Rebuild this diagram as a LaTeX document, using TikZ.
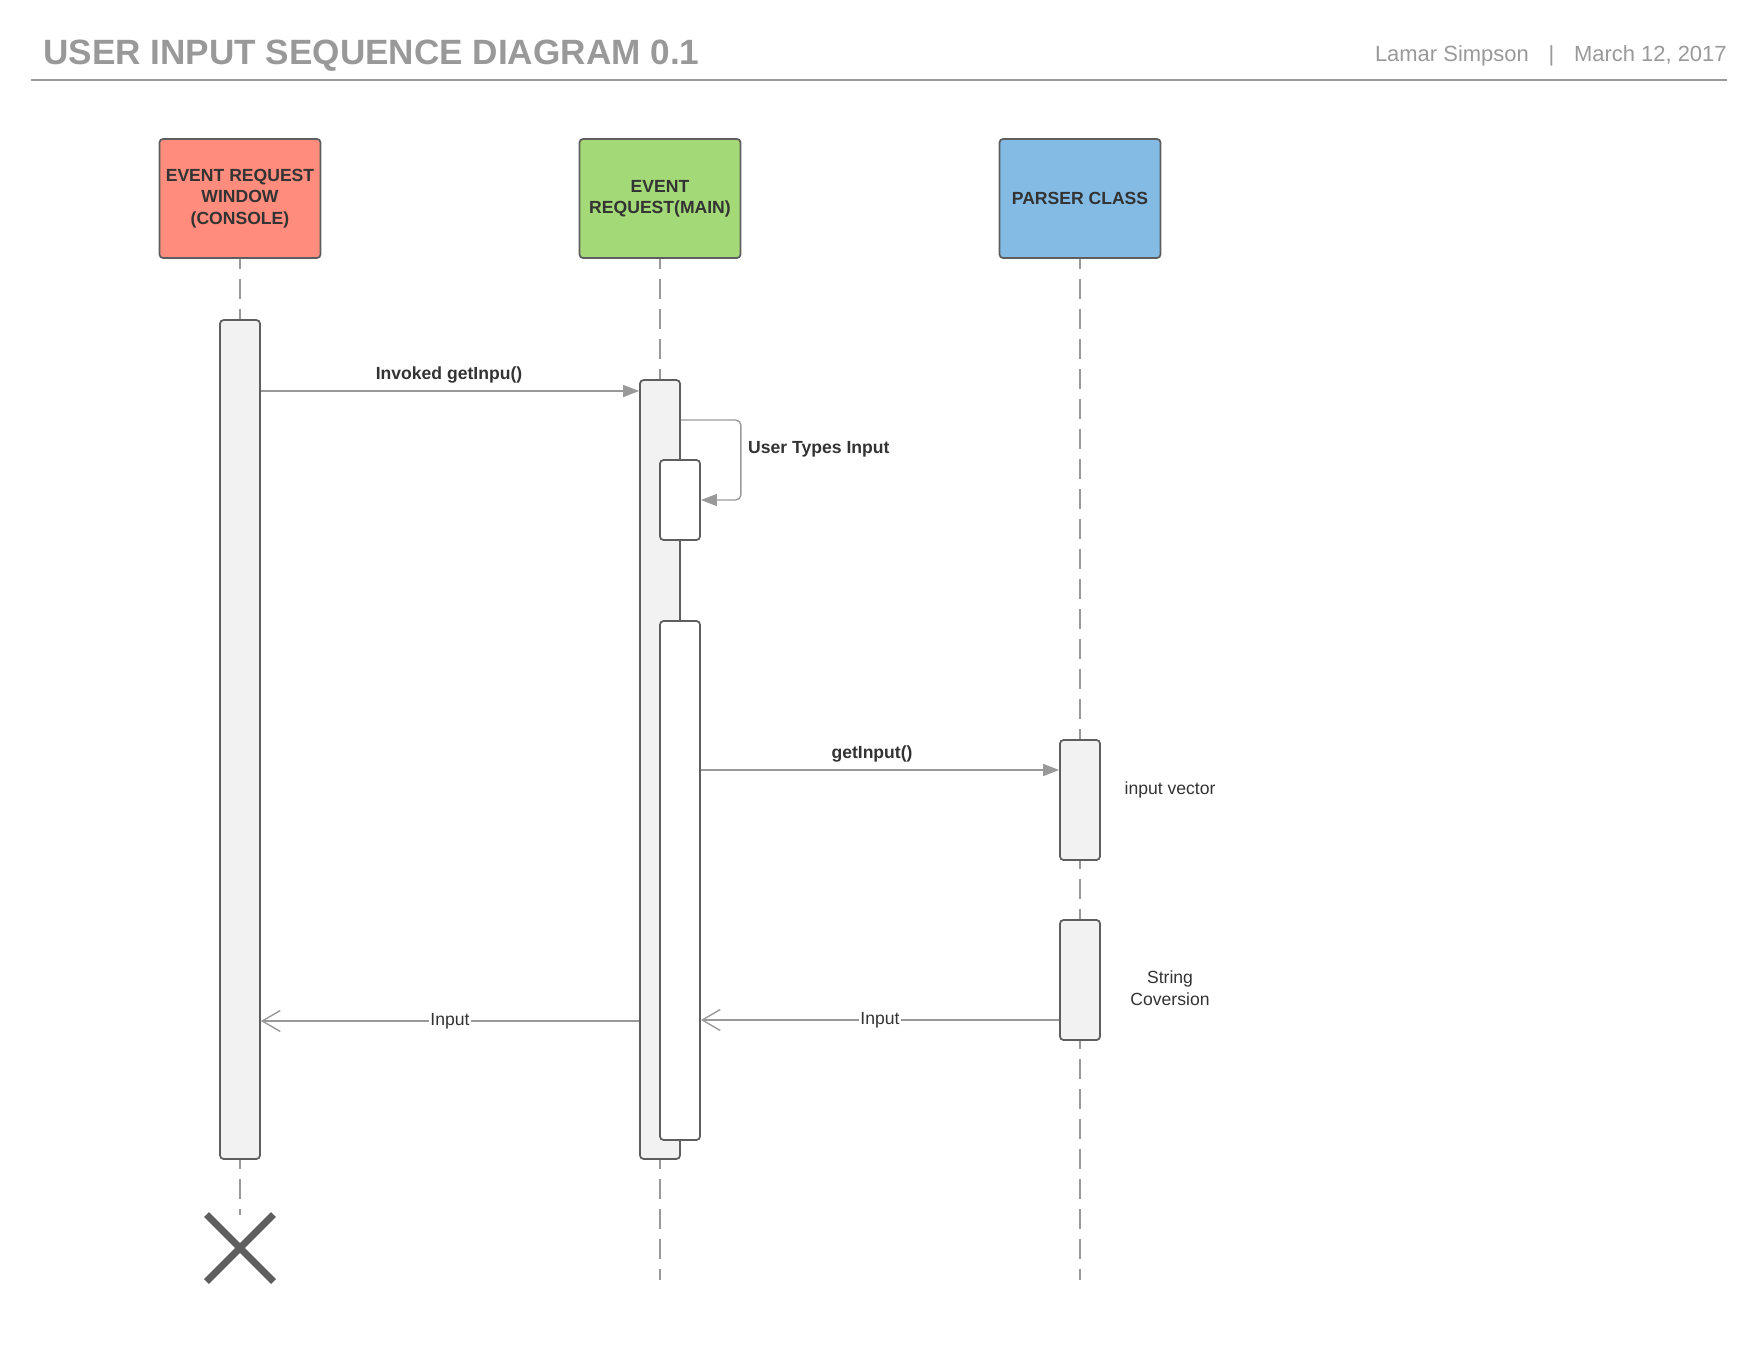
\documentclass[tikz,border=0pt]{standalone}
\usepackage{fontspec}
\setmainfont{Liberation Sans}
\usepackage{tikz}
\usetikzlibrary{arrows.meta, positioning, shapes.misc}

\definecolor{titlegray}{HTML}{999999}
\definecolor{linegray}{HTML}{999999}
\definecolor{edgegray}{HTML}{5E5E5E}
\definecolor{textdark}{HTML}{333333}
\definecolor{actfill}{HTML}{F2F2F2}
\definecolor{salmon}{HTML}{FF8C7C}
\definecolor{leaf}{HTML}{A3D977}
\definecolor{sky}{HTML}{83BBE5}

\begin{document}
\begin{tikzpicture}[
    x=0.02cm, y=-0.02cm,
    actor/.style={draw=edgegray, line width=1pt, rounded corners=2pt, minimum width=3.22cm, minimum height=2.38cm, align=center, font=\fontsize{10}{12.2}\selectfont\bfseries, text=textdark},
    act/.style={draw=edgegray, line width=1pt, fill=actfill, rounded corners=2pt, minimum width=0.8cm, inner sep=0pt},
    life/.style={linegray, line width=0.8pt, dash pattern=on 0.4cm off 0.2cm, dash phase=0.2cm},
    call/.style={-{Triangle[length=0.32cm, width=0.24cm]}, linegray, line width=0.8pt},
    reply/.style={-{Straight Barb[length=0.36cm, width=0.42cm]}, linegray, line width=0.8pt},
    msg/.style={font=\fontsize{10}{12}\selectfont\bfseries, text=textdark},
    note/.style={font=\fontsize{10}{12.5}\selectfont, align=center, text=textdark}
]
    \useasboundingbox (0,0) rectangle (1760,1360);

    % Header
    \node[anchor=base west, inner sep=0, font=\fontsize{20}{24}\selectfont\bfseries, text=titlegray] (title) at (43,64) {USER INPUT SEQUENCE DIAGRAM 0.1};
    \node[anchor=base east, inner sep=0, font=\fontsize{12.5}{15}\selectfont, text=titlegray] (byline) at (1727,61) {Lamar Simpson\hspace{0.9em}|\hspace{0.9em}March 12, 2017};
    \draw[linegray, line width=1.4pt] (31,80) -- (1727,80);

    % Participants
    \node[actor, fill=salmon] (console) at (240,198.5) {EVENT REQUEST\\WINDOW\\(CONSOLE)};
    \node[actor, fill=leaf] (main) at (660,198.5) {EVENT\\REQUEST(MAIN)};
    \node[actor, fill=sky] (parser) at (1080,198.5) {PARSER CLASS};

    % Lifeline ends
    \node[cross out, draw=edgegray, line width=4pt, minimum size=1.2cm, inner sep=0pt] (kill) at (240,1248) {};
    \coordinate (mainEnd) at (660,1280);
    \coordinate (parserEnd) at (1080,1280);

    % Lifelines
    \draw[life] (console) -- (kill);
    \draw[life] (main) -- (mainEnd);
    \draw[life] (parser) -- (parserEnd);

    % Activations
    \node[act, minimum height=16.78cm] (actA) at (240,739.5) {};
    \node[act, minimum height=15.58cm] (actB) at (660,769.5) {};
    \node[act, fill=white, minimum height=1.6cm] (typing) at (680,500) {};
    \node[act, fill=white, minimum height=10.38cm] (relay) at (680,880.5) {};
    \node[act, minimum height=2.4cm] (vec) at (1080,800) {};
    \node[act, minimum height=2.4cm] (conv) at (1080,980) {};

    % Messages
    \draw[call] (actA.east |- 0,391) -- (actB.west |- 0,391);
    \node[msg] (invokeLbl) at (449,375) {Invoked getInpu()};

    \draw[call, rounded corners=3pt] (actB.east |- 0,420) -- ++(60,0) |- (typing.east);
    \node[msg, anchor=west] (typesLbl) at (742,449) {User Types Input};

    \draw[call] (relay.east |- 0,770) -- (vec.west |- 0,770);
    \node[msg] (getLbl) at (872,754) {getInput()};

    \node[note] (vecLbl) at (1170,790) {input vector};
    \node[note] (convLbl) at (1170,988) {String\\Coversion};

    % Replies
    \draw[reply] (conv.west |- 0,1020) -- node[note, fill=white, inner sep=1pt] (inputLblB) {Input} (relay.east |- 0,1020);
    \draw[reply] (actB.west |- 0,1021) -- node[note, fill=white, inner sep=1pt] (inputLblA) {Input} (actA.east |- 0,1021);

\end{tikzpicture}
\end{document}
